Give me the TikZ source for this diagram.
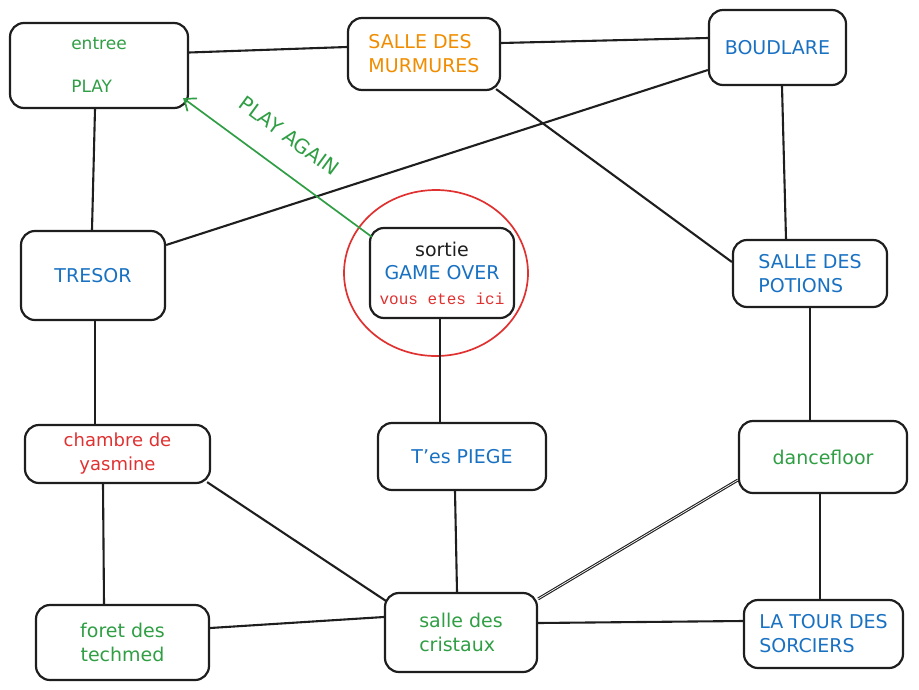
\documentclass[tikz,border=0pt]{standalone}
\usepackage{fontspec}
\setmainfont{DejaVu Sans}
\setmonofont{Liberation Mono}
\usetikzlibrary{calc,arrows.meta}
\definecolor{ink}{HTML}{1E1E1E}
\definecolor{xgreen}{HTML}{2F9E44}
\definecolor{xblue}{HTML}{1971C2}
\definecolor{xorange}{HTML}{F08C00}
\definecolor{xred}{HTML}{E03131}
\begin{document}
\begin{tikzpicture}[x=1pt,y=-1pt,
  room/.style={draw=ink, line width=2.2pt, rounded corners=14pt, inner sep=0pt,
    font=\fontsize{19}{24}\selectfont},
  link/.style={draw=ink, line width=2.1pt},
  dbl/.style={draw=ink, line width=1.1pt, double=white, double distance=0.7pt},
  back/.style={draw=xgreen, line width=1.7pt, -{Straight Barb[length=10pt,width=16pt,line width=1.7pt]}}
]
\useasboundingbox (0,0) rectangle (919,689);

% rooms
\node[room, minimum width=178pt, minimum height=85pt, align=left, text=xgreen,
  font=\fontsize{17}{22}\selectfont] (entree) at (99,65.5) {entree\\[21pt]PLAY};
\node[room, minimum width=152pt, minimum height=72pt, align=left, text=xorange] (murm) at (424,54) {SALLE DES\\MURMURES};
\node[room, minimum width=137pt, minimum height=75pt, text=xblue] (boud) at (777.5,47.5) {BOUDLARE};
\node[room, minimum width=144pt, minimum height=89pt, text=xblue] (tresor) at (93,275.5) {\raisebox{-5pt}{TRESOR}};
\node[room, minimum width=144pt, minimum height=90pt, align=center] (sortie) at (442,273)
  {\textcolor{ink}{sortie}\\[-1pt]\textcolor{xblue}{GAME OVER}\\[1pt]\textcolor{xred}{\ttfamily\fontsize{16}{20}\selectfont vous etes ici}};
\node[room, minimum width=154pt, minimum height=67pt, align=left, text=xblue] (potions) at (810,273.5) {SALLE DES\\POTIONS};
\node[room, minimum width=185pt, minimum height=58pt, align=center, text=xred,
  font=\fontsize{18}{24}\selectfont] (chambre) at (117.5,454) {chambre de\\yasmine};
\node[room, minimum width=168pt, minimum height=67pt, text=xblue] (piege) at (462,456.5) {T'es PIEGE};
\node[room, minimum width=168pt, minimum height=72pt, text=xgreen] (dance) at (823,457) {dancefloor};
\node[room, minimum width=173pt, minimum height=75pt, align=center, text=xgreen] (foret) at (122.5,642.5) {foret des\\techmed};
\node[room, minimum width=152pt, minimum height=79pt, align=left, text=xgreen] (crist) at (461,632.5) {salle des\\cristaux};
\node[room, minimum width=159pt, minimum height=68pt, align=left, text=xblue] (tour) at (823.5,634) {LA TOUR DES\\SORCIERS};

% marker around the current room
\draw[xred, line width=1.7pt] (436,273) ellipse [x radius=92, y radius=83];

% corridors
\draw[link] ($(entree.east)+(0,-13)$) -- ($(murm.west)+(0,-7)$);
\draw[link] ($(murm.east)+(0,-11)$) -- ($(boud.west)+(0,-9.5)$);
\draw[link] ($(murm.south east)+(-5,-2)$) -- ($(potions.west)+(0,-11.5)$);
\draw[link] ($(boud.west)+(0,22.5)$) -- ($(tresor.east)+(0,-30.5)$);
\draw[link] ($(boud.south)+(4.5,0)$) -- ($(potions.north)+(-24,0)$);
\draw[link] ($(entree.south)+(-4,0)$) -- ($(tresor.north)+(-1,0)$);
\draw[link] ($(tresor.south)+(2,0)$) -- ($(chambre.north)+(-22.5,0)$);
\draw[link] (potions.south) -- ($(dance.north)+(-13,0)$);
\draw[link] ($(sortie.south)+(-2,0)$) -- ($(piege.north)+(-22,0)$);
\draw[link] ($(chambre.south)+(-14.5,0)$) -- ($(foret.north)+(-18.5,0)$);
\draw[link] ($(chambre.south east)+(-4,-2)$) -- ($(crist.north west)+(2,9)$);
\draw[link] ($(piege.south)+(-7,0)$) -- ($(crist.north)+(-4,0)$);
\draw[link] ($(foret.east)+(0,-14.5)$) -- ($(crist.west)+(0,-15.5)$);
\draw[dbl] ($(crist.north east)+(0,7)$) -- ($(dance.west)+(0,23)$);
\draw[link] ($(crist.east)+(0,-9.5)$) -- ($(tour.west)+(0,-13)$);
\draw[link] ($(dance.south)+(-3,0)$) -- ($(tour.north)+(-3.5,0)$);

% way back to the start
\draw[back] ($(sortie.north west)+(3,10)$) -- ($(entree.south east)+(-6,-11)$);
\node[text=xgreen, font=\fontsize{20}{24}\selectfont, rotate=-36.4] (again) at (289,136) {PLAY AGAIN};
\end{tikzpicture}
\end{document}
